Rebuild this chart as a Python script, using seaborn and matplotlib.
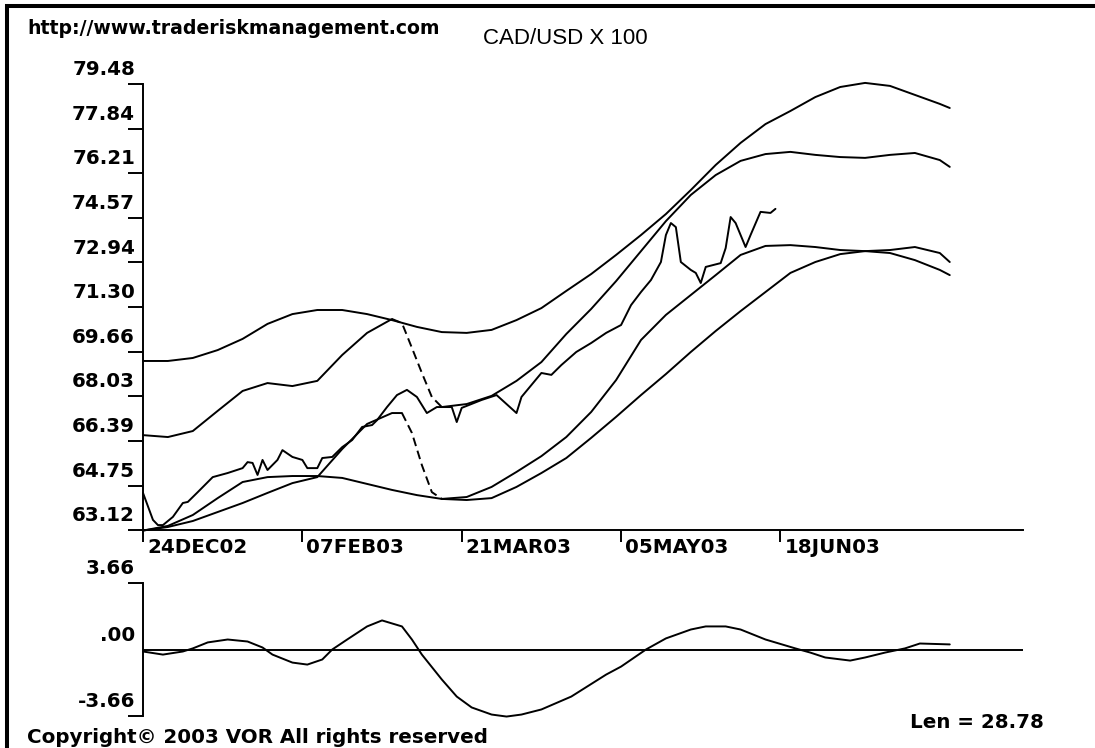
import seaborn as sns
import matplotlib.pyplot as plt
from matplotlib.lines import Line2D
from matplotlib.transforms import ScaledTranslation

# x = trading bars counted from 24DEC02 (one tick every 32 bars)
xtick_bars = [0, 32, 64, 96, 128]
xtick_labels = ["24DEC02", "07FEB03", "21MAR03", "05MAY03", "18JUN03"]
ytick_vals = [63.12, 64.75, 66.39, 68.03, 69.66, 71.30, 72.94, 74.57, 76.21, 77.84, 79.48]
ytick_labels = ["63.12", "64.75", "66.39", "68.03", "69.66", "71.30", "72.94",
                "74.57", "76.21", "77.84", "79.48"]

# outer envelopes, sampled every 5 bars
env_bars = list(range(0, 161, 5)) + [162]
upper_env = [69.32, 69.32, 69.43, 69.72, 70.13, 70.68, 71.04, 71.19, 71.19, 71.04,
             70.82, 70.57, 70.38, 70.35, 70.46, 70.82, 71.26, 71.89, 72.51, 73.21,
             73.94, 74.71, 75.59, 76.51, 77.32, 78.01, 78.49, 79.00, 79.37, 79.52,
             79.41, 79.08, 78.75, 78.60]
lower_env = [63.10, 63.27, 63.67, 64.29, 64.88, 65.06, 65.10, 65.10, 65.03, 64.81,
             64.59, 64.40, 64.26, 64.22, 64.29, 64.70, 65.21, 65.76, 66.50, 67.27,
             68.07, 68.84, 69.65, 70.42, 71.15, 71.85, 72.55, 72.95, 73.24, 73.35,
             73.28, 73.02, 72.66, 72.47]

# inner upper band, with the dashed jump
band_hi_bars = list(range(0, 51, 5))
band_hi = [66.60, 66.53, 66.75, 67.49, 68.22, 68.51, 68.40, 68.59, 69.54, 70.35, 70.86]
jump_hi_bars = [50, 52, 54, 56, 58, 60]
jump_hi = [70.86, 70.71, 69.80, 68.88, 68.00, 67.63]
band_hi2_bars = list(range(60, 161, 5)) + [162]
band_hi2 = [67.63, 67.74, 68.04, 68.59, 69.28, 70.31, 71.23, 72.25, 73.35, 74.45,
            75.41, 76.14, 76.66, 76.91, 76.99, 76.88, 76.80, 76.77, 76.88, 76.95,
            76.69, 76.44]

# inner lower band, with the dashed jump
band_lo_bars = list(range(0, 51, 5)) + [52]
band_lo = [63.10, 63.23, 63.45, 63.78, 64.11, 64.48, 64.84, 65.06, 66.09, 67.01,
           67.41, 67.41]
jump_lo_bars = [52, 54, 56, 58, 60]
jump_lo = [67.41, 66.68, 65.50, 64.51, 64.26]
band_lo2_bars = list(range(60, 161, 5)) + [162]
band_lo2 = [64.26, 64.33, 64.70, 65.25, 65.83, 66.53, 67.45, 68.62, 70.09, 71.01,
            71.74, 72.47, 73.21, 73.54, 73.57, 73.50, 73.39, 73.35, 73.39, 73.50,
            73.28, 72.95]

# CAD/USD x 100 closes
price_bars = [0, 2, 3, 4, 6, 8, 9, 11, 14, 17, 20, 21, 22, 23, 24, 25, 27, 28, 30, 32,
              33, 35, 36, 38, 40, 42, 44, 46, 47, 49, 51, 53, 55, 57, 59, 62, 63, 64, 68, 71,
              75, 76, 78, 80, 82, 84, 87, 90, 93, 96, 98, 100, 102, 104, 105, 106, 107, 108,
              110, 111, 112, 113, 116, 117, 118, 119, 121, 122, 124, 126, 127]
price = [64.48, 63.49, 63.30, 63.30, 63.60, 64.11, 64.15, 64.51, 65.06, 65.21,
         65.39, 65.61, 65.58, 65.14, 65.69, 65.32, 65.69, 66.05, 65.80, 65.69,
         65.39, 65.39, 65.76, 65.80, 66.16, 66.42, 66.90, 66.97, 67.15, 67.63,
         68.07, 68.26, 68.00, 67.41, 67.63, 67.63, 67.08, 67.60, 67.89, 68.07,
         67.41, 68.00, 68.44, 68.88, 68.81, 69.17, 69.65, 69.98, 70.35, 70.64,
         71.37, 71.85, 72.29, 72.95, 73.94, 74.38, 74.23, 72.95, 72.66, 72.55,
         72.18, 72.77, 72.91, 73.46, 74.60, 74.38, 73.50, 73.94, 74.79, 74.75,
         74.90]

# oscillator in the lower panel
osc_bars = [0, 4, 8, 10, 13, 17, 21, 24, 26, 30, 33, 36, 38, 41, 45, 48, 52, 54, 56, 60,
            63, 66, 70, 73, 76, 80, 86, 93, 96, 101, 105, 110, 113, 117, 120, 125, 131,
            134, 137, 142, 145, 149, 153, 156, 162]
osc = [-0.11, -0.28, -0.11, 0.06, 0.39, 0.55, 0.44, 0.11, -0.28, -0.72,
       -0.83, -0.55, 0.00, 0.55, 1.27, 1.60, 1.27, 0.55, -0.28, -1.65,
       -2.59, -3.19, -3.58, -3.69, -3.58, -3.30, -2.59, -1.38, -0.94, 0.00,
       0.61, 1.10, 1.27, 1.27, 1.10, 0.55, 0.06, -0.17, -0.44, -0.61,
       -0.44, -0.17, 0.06, 0.33, 0.28]
osc_ticks = [-3.66, 0.0, 3.66]
osc_labels = ["-3.66", ".00", "3.66"]

sns.set_style("ticks")
plt.rcParams["font.family"] = ["DejaVu Sans"]
plt.rcParams["text.color"] = "black"

INK = "black"
LW = 1.4
W, H = 1095, 748
fig = plt.figure(figsize=(W / 100, H / 100), dpi=100)

X0, X1 = 143, 1023
ax = fig.add_axes([X0 / W, 1 - 530 / H, (X1 - X0) / W, (530 - 84) / H])
ax2 = fig.add_axes([X0 / W, 1 - 716 / H, (X1 - X0) / W, (716 - 583) / H])

solid = dict(ax=ax, color=INK, lw=LW, clip_on=False)
sns.lineplot(x=env_bars, y=upper_env, **solid)
sns.lineplot(x=env_bars, y=lower_env, **solid)
sns.lineplot(x=band_hi_bars, y=band_hi, **solid)
sns.lineplot(x=band_hi2_bars, y=band_hi2, **solid)
sns.lineplot(x=band_lo_bars, y=band_lo, **solid)
sns.lineplot(x=band_lo2_bars, y=band_lo2, **solid)
sns.lineplot(x=jump_hi_bars, y=jump_hi, linestyle=(0, (4.5, 2.5)), **solid)
sns.lineplot(x=jump_lo_bars, y=jump_lo, linestyle=(0, (4.5, 2.5)), **solid)
sns.lineplot(x=price_bars, y=price, **solid)

xmax = (X1 - X0) / 4.98
ax.set_xlim(0, xmax)
ax.set_ylim(63.12, 79.48)
ax.set_xticks(xtick_bars, labels=xtick_labels)
ax.set_yticks(ytick_vals, labels=ytick_labels)
ax.set_xlabel("")
ax.set_ylabel("")
sns.despine(ax=ax)
for s in ("left", "bottom"):
    ax.spines[s].set_linewidth(1.4)
    ax.spines[s].set_color(INK)
ax.tick_params(axis="y", left=True, direction="out", length=10.8, width=1.4, pad=0,
               color=INK, labelcolor=INK, labelsize=14.3)
ax.tick_params(axis="x", bottom=True, direction="out", length=8.6, width=1.4, pad=0,
               color=INK, labelcolor=INK, labelsize=14.3)


def shift(labels, dx, dy):
    off = ScaledTranslation(dx / 100, dy / 100, fig.dpi_scale_trans)
    for lab in labels:
        lab.set_fontweight("bold")
        lab.set_transform(lab.get_transform() + off)


for lab in ax.get_xticklabels():
    lab.set_ha("left")
for lab in ax.get_yticklabels():
    lab.set_va("baseline")
shift(ax.get_xticklabels(), 4, 4)
shift(ax.get_yticklabels(), 7, 8.7)

# lower panel
sns.lineplot(x=osc_bars, y=osc, ax=ax2, color=INK, lw=LW, clip_on=False)
ax2.axhline(0, color=INK, lw=1.4)
ax2.set_xlim(0, xmax)
ax2.set_ylim(-3.66, 3.66)
ax2.set_xticks([])
ax2.set_yticks(osc_ticks, labels=osc_labels)
ax2.set_xlabel("")
ax2.set_ylabel("")
sns.despine(ax=ax2, bottom=True)
ax2.spines["left"].set_linewidth(1.4)
ax2.spines["left"].set_color(INK)
ax2.tick_params(axis="y", left=True, direction="out", length=10.8, width=1.4, pad=0,
                color=INK, labelcolor=INK, labelsize=14.3)
ax2.yaxis.get_major_ticks()[1].tick1line.set_visible(False)
for lab in ax2.get_yticklabels():
    lab.set_va("baseline")
shift(ax2.get_yticklabels(), 7, 8.7)

# page texts
fig.text(27 / W, 1 - 34 / H, "http://www.traderiskmanagement.com", fontsize=13.6,
         fontweight="bold", ha="left", va="baseline", color=INK)
fig.text(565 / W, 1 - 44 / H, "CAD/USD X 100", fontsize=16, family=["Liberation Sans"],
         ha="center", va="baseline", color=INK)
fig.text(27 / W, 1 - 743 / H, "Copyright\u00a9 2003 VOR All rights reserved", fontsize=14.3,
         fontweight="bold", ha="left", va="baseline", color=INK)
fig.text(910 / W, 1 - 728 / H, "Len = 28.78", fontsize=14.3, fontweight="bold",
         ha="left", va="baseline", color=INK)

# window frame on the left and top
fig.add_artist(Line2D([7 / W, 7 / W], [0, 1 - 4 / H], color=INK, lw=2.9,
                      solid_capstyle="butt", transform=fig.transFigure))
fig.add_artist(Line2D([5 / W, 1], [1 - 6 / H, 1 - 6 / H], color=INK, lw=2.9,
                      solid_capstyle="butt", transform=fig.transFigure))

fig.savefig("out.png", dpi=100)
